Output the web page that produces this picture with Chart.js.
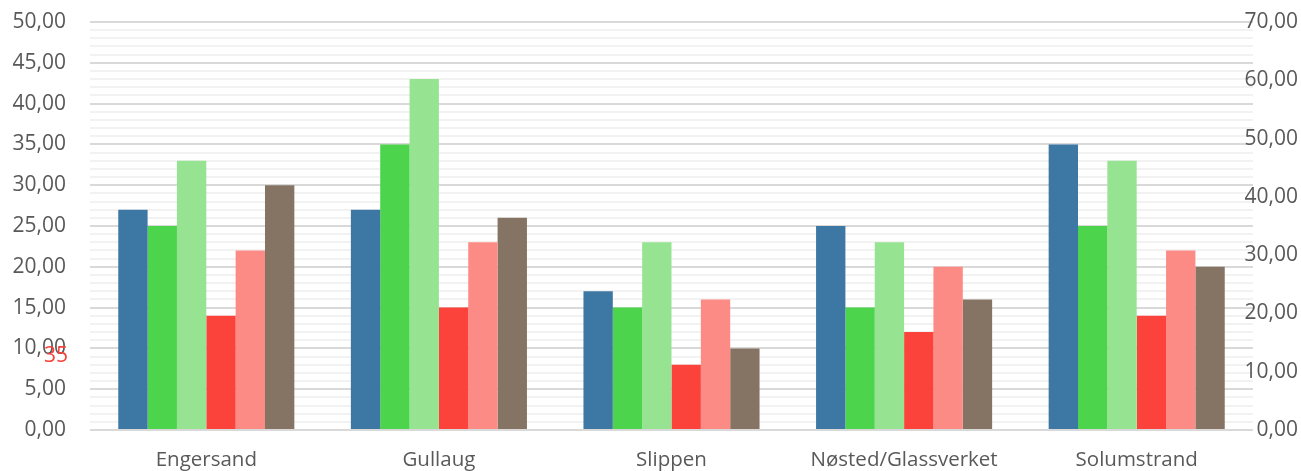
<!DOCTYPE html>
<html>
<head>
<meta charset="utf-8">
<script src="https://cdn.jsdelivr.net/npm/chart.js@4/dist/chart.umd.min.js"></script>
<style>
  html, body { margin: 0; padding: 0; background: #ffffff; }
  #wrap { position: relative; width: 1301px; height: 471px; }
</style>
</head>
<body>
<div id="wrap"><canvas id="c" width="1301" height="471"></canvas></div>
<script>
const categories = ["Engersand", "Gullaug", "Slippen", "Nøsted/Glassverket", "Solumstrand"];
const serie1 = [27, 27, 17, 25, 35];
const serie2 = [25, 35, 15, 15, 25];
const serie3 = [33, 43, 23, 23, 33];
const serie4 = [14, 15, 8, 12, 14];
const serie5 = [22, 23, 16, 20, 22];
const serie6 = [30, 26, 10, 16, 20];
const seriesNames = ["Serie 1", "Serie 2", "Serie 3", "Serie 4", "Serie 5", "Serie 6"];
const seriesColors = ["#3d78a5", "#4dd44d", "#96e491", "#fb433b", "#fd8b85", "#857364"];
const leftAxis = { min: 0, max: 50, major: 5, minor: 1 };
const rightAxis = { min: 0, max: 70, step: 10 };
const strayLabel = "35";

const fmt = v => v.toFixed(2).replace('.', ',');
const FONT = "'Open Sans', 'DejaVu Sans', sans-serif";

const allSeries = [serie1, serie2, serie3, serie4, serie5, serie6];

const strayPlugin = {
  id: 'stray',
  afterDraw(chart) {
    const ctx = chart.ctx;
    const y = chart.scales.y.getPixelForValue(10);
    ctx.save();
    ctx.font = "21px " + FONT;
    ctx.fillStyle = "#f7413a";
    ctx.textAlign = "right";
    ctx.textBaseline = "middle";
    ctx.fillText(strayLabel, 68, y + 8);
    ctx.restore();
  }
};

const noPad = s => { s.paddingTop = 0; s.paddingBottom = 0; };

new Chart(document.getElementById('c'), {
  type: 'bar',
  data: {
    labels: categories,
    datasets: allSeries.map((d, i) => ({
      label: seriesNames[i],
      data: d,
      backgroundColor: seriesColors[i],
      borderWidth: 0,
      yAxisID: 'y',
      categoryPercentage: 0.757,
      barPercentage: 1.0
    }))
  },
  options: {
    responsive: false,
    animation: false,
    devicePixelRatio: 1,
    layout: { padding: { top: 22, left: 0, right: 0, bottom: 0 } },
    plugins: { legend: { display: false }, tooltip: { enabled: false } },
    scales: {
      x: {
        grid: { display: false, drawTicks: false },
        border: { display: false },
        ticks: { color: '#595959', font: { family: FONT, size: 20.5 }, padding: 18, maxRotation: 0, autoSkip: false },
        afterFit(s) { s.height = 41; s.paddingLeft = 0; s.paddingRight = 0; }
      },
      y: {
        position: 'left',
        min: leftAxis.min, max: leftAxis.max,
        border: { display: false },
        grid: {
          drawTicks: false,
          lineWidth: 2,
          color: c => (Math.round(c.tick.value) % leftAxis.major === 0) ? '#d9d9d9' : '#f2f2f2'
        },
        ticks: {
          stepSize: leftAxis.minor,
          autoSkip: false,
          padding: 24,
          color: '#595959',
          font: { family: FONT, size: 21 },
          callback: v => (Math.round(v) % leftAxis.major === 0) ? fmt(v) : ''
        },
        afterFit(s) { s.width = 90; noPad(s); }
      },
      y1: {
        position: 'right',
        min: rightAxis.min, max: rightAxis.max,
        border: { display: false },
        grid: { display: false, drawTicks: false },
        ticks: {
          stepSize: rightAxis.step,
          mirror: true,
          padding: 45,
          color: '#595959',
          font: { family: FONT, size: 21 },
          callback: v => fmt(v)
        },
        afterFit(s) { s.width = 48; noPad(s); }
      }
    }
  },
  plugins: [strayPlugin]
});
</script>
</body>
</html>
